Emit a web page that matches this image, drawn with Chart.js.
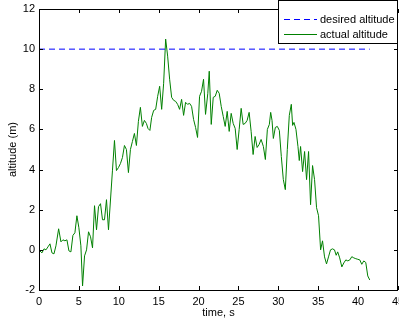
<!DOCTYPE html>
<html>
<head>
<meta charset="utf-8">
<script src="https://cdn.jsdelivr.net/npm/chart.js@4/dist/chart.umd.min.js"></script>
<style>
  html, body { margin: 0; padding: 0; background: #fff; }
  #wrap { width: 399px; height: 324px; position: relative; }
</style>
</head>
<body>
<div id="wrap"><canvas id="c" width="399" height="324"></canvas></div>
<script>
// Flight log: sample times (s) and measured altitude (m)
const timeS = [
  0.1, 0.375, 0.625, 0.875, 1.125, 1.375, 1.625, 1.875, 2.125, 2.46,
  2.75, 3.0, 3.25, 3.5, 3.75, 4.0, 4.25, 4.5, 4.75, 5.0,
  5.25, 5.46, 5.71, 5.96, 6.21, 6.46, 6.71, 6.96, 7.21, 7.46,
  7.71, 7.96, 8.21, 8.46, 8.71, 9.21, 9.46, 9.71, 9.96, 10.21,
  10.46, 10.71, 10.96, 11.21, 11.46, 11.71, 11.96, 12.21, 12.46, 12.71,
  12.96, 13.21, 13.46, 13.66, 13.9, 14.12, 14.375, 14.625, 14.875, 15.125,
  15.375, 15.625, 15.875, 16.125, 16.375, 16.625, 16.875, 17.125, 17.375, 17.625,
  17.875, 18.125, 18.375, 18.625, 18.875, 19.125, 19.375, 19.625, 19.875, 20.125,
  20.375, 20.625, 20.875, 21.16, 21.34, 21.59, 21.84, 22.09, 22.34, 22.59,
  22.84, 23.09, 23.34, 23.59, 23.84, 24.09, 24.34, 24.59, 24.84, 25.09,
  25.34, 25.59, 25.84, 26.09, 26.34, 26.59, 26.84, 27.09, 27.34, 27.59,
  27.84, 28.125, 28.375, 28.625, 28.875, 29.04, 29.21, 29.375, 29.625, 29.875,
  30.125, 30.375, 30.625, 30.875, 31.125, 31.375, 31.625, 31.79, 31.96, 32.21,
  32.46, 32.625, 32.79, 33.04, 33.29, 33.54, 33.79, 34.04, 34.29, 34.54,
  34.79, 35.04, 35.3, 35.54, 35.79, 36.04, 36.29, 36.54, 36.79, 37.04,
  37.25, 37.44, 37.69, 37.96, 38.21, 38.46, 38.71, 38.96, 39.21, 39.46,
  39.71, 39.96, 40.21, 40.46, 40.71, 40.96, 41.21, 41.46
];
const actualAltitude = [
  -0.05, -0.15, 0.05, 0.0, 0.15, 0.3, -0.15, -0.2, 0.2, 1.05,
  0.4, 0.5, 0.45, 0.5, -0.05, -0.1, 0.72, 0.85, 1.7, 1.1,
  0.2, -1.8, -0.3, 0.0, 0.9, 0.65, 0.1, 2.2, 1.0, 2.15,
  2.3, 1.5, 1.5, 2.5, 1.0, 3.97, 5.45, 3.95, 4.1, 4.3,
  4.6, 5.2, 5.0, 3.85, 5.0, 5.4, 5.8, 5.2, 6.4, 7.1,
  6.15, 6.45, 6.3, 6.05, 5.95, 6.6, 6.95, 7.0, 7.65, 8.15,
  7.0, 8.3, 10.5, 9.65, 8.5, 7.6, 7.45, 7.4, 7.25, 7.0,
  7.5, 6.7, 7.35, 7.25, 7.3, 7.15, 6.5, 6.1, 5.6, 7.65,
  7.9, 8.5, 6.75, 7.8, 8.9, 6.25, 7.6, 7.65, 7.95, 7.8,
  7.15, 6.65, 6.15, 6.9, 5.9, 6.8, 6.3, 6.05, 5.0, 6.0,
  7.05, 6.25, 6.3, 6.45, 6.85, 5.9, 4.75, 5.65, 5.1, 5.25,
  5.5, 5.15, 4.5, 6.0, 6.25, 6.85, 6.45, 5.55, 6.1, 6.15,
  5.95, 4.65, 3.5, 3.0, 5.0, 6.7, 7.25, 6.2, 6.35, 6.0,
  5.15, 4.45, 5.15, 3.9, 4.9, 3.5, 4.9, 2.25, 4.2, 3.5,
  2.1, 1.7, 0.0, 0.45, -0.35, -0.7, -0.35, 0.0, 0.05, 0.0,
  -0.27, -0.1, -0.4, -0.85, -0.65, -0.5, -0.55, -0.5, -0.34, -0.4,
  -0.44, -0.47, -0.5, -0.72, -0.55, -0.63, -1.3, -1.5
];
// Set point for the altitude controller (m)
const desiredAltitude = 10;

// Axis ticks
const xTicks = [0, 5, 10, 15, 20, 25, 30, 35, 40, 45];
const yTicks = [-2, 0, 2, 4, 6, 8, 10, 12];

const seriesLabels = ['desired altitude', 'actual altitude'];
const FONT = '"Liberation Sans", Arial, Helvetica, sans-serif';

const actualPoints = timeS.map((t, i) => ({ x: t, y: actualAltitude[i] }));
const desiredPoints = [
  { x: 0, y: desiredAltitude },
  { x: timeS[timeS.length - 1], y: desiredAltitude }
];

// Box frame, inward tick marks on all four sides, and a boxed legend
const framePlugin = {
  id: 'frame',
  afterDatasetsDraw(chart) {
    const { ctx, chartArea: a, scales } = chart;
    const tl = 4;
    ctx.save();
    ctx.strokeStyle = '#000';
    ctx.lineWidth = 1;
    ctx.beginPath();
    xTicks.forEach(v => {
      const px = Math.round(scales.x.getPixelForValue(v)) + 0.5;
      ctx.moveTo(px, a.bottom); ctx.lineTo(px, a.bottom - tl);
      ctx.moveTo(px, a.top); ctx.lineTo(px, a.top + tl);
    });
    yTicks.forEach(v => {
      const py = Math.round(scales.y.getPixelForValue(v)) + 0.5;
      ctx.moveTo(a.left, py); ctx.lineTo(a.left + tl, py);
      ctx.moveTo(a.right, py); ctx.lineTo(a.right - tl, py);
    });
    ctx.stroke();
    ctx.strokeRect(Math.round(a.left) + 0.5, Math.round(a.top) + 0.5,
                   Math.round(a.right - a.left) - 1, Math.round(a.bottom - a.top));

    // legend
    const bx = 278.5, by = 0.5, bw = 119, bh = 43;
    ctx.fillStyle = '#fff';
    ctx.fillRect(bx, by, bw, bh);
    ctx.strokeRect(bx, by, bw, bh);
    ctx.font = '11px ' + FONT;
    ctx.textBaseline = 'middle';
    ctx.textAlign = 'left';
    const rows = [19.5, 34.5];
    chart.data.datasets.forEach((ds, i) => {
      const y = rows[i];
      ctx.strokeStyle = ds.borderColor;
      ctx.setLineDash(ds.borderDash || []);
      ctx.beginPath();
      ctx.moveTo(284, y); ctx.lineTo(317, y);
      ctx.stroke();
      ctx.setLineDash([]);
      ctx.fillStyle = '#000';
      ctx.fillText(ds.label, 320, y);
    });
    ctx.restore();
  }
};

new Chart(document.getElementById('c'), {
  type: 'line',
  data: {
    datasets: [
      {
        label: seriesLabels[0],
        data: desiredPoints,
        borderColor: '#0000ff',
        borderWidth: 1,
        borderDash: [6, 4],
        pointRadius: 0,
        fill: false
      },
      {
        label: seriesLabels[1],
        data: actualPoints,
        borderColor: '#008000',
        borderWidth: 1,
        pointRadius: 0,
        tension: 0,
        fill: false
      }
    ]
  },
  options: {
    responsive: false,
    devicePixelRatio: 1,
    animation: false,
    layout: { padding: { top: 9, right: 1, left: 0, bottom: 0 } },
    plugins: {
      legend: { display: false },
      tooltip: { enabled: false }
    },
    scales: {
      x: {
        type: 'linear',
        min: 0,
        max: 45,
        grid: { display: false, drawTicks: false },
        border: { display: false },
        afterBuildTicks: s => { s.ticks = xTicks.map(v => ({ value: v })); },
        afterFit: s => { s.height = 34; s.paddingLeft = 0; s.paddingRight = 0; },
        ticks: { color: '#000', font: { family: FONT, size: 11 }, padding: 5, maxRotation: 0, autoSkip: false },
        title: { display: true, text: 'time, s', color: '#000', font: { family: FONT, size: 11 }, padding: { top: 0, bottom: 4 } }
      },
      y: {
        min: -2,
        max: 12,
        grid: { display: false, drawTicks: false },
        border: { display: false },
        afterBuildTicks: s => { s.ticks = yTicks.map(v => ({ value: v })); },
        afterFit: s => { s.width = 39; s.paddingTop = 0; s.paddingBottom = 0; },
        ticks: { color: '#000', font: { family: FONT, size: 11 }, padding: 4, autoSkip: false },
        title: { display: true, text: 'altitude (m)', color: '#000', font: { family: FONT, size: 11 }, padding: { top: 6, bottom: 0 } }
      }
    }
  },
  plugins: [framePlugin]
});
</script>
</body>
</html>
